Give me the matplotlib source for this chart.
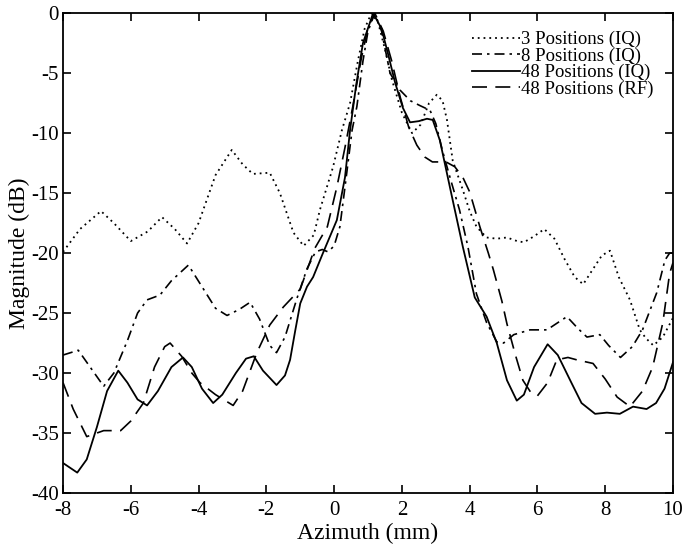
import matplotlib
matplotlib.use("Agg")
import matplotlib.pyplot as plt

plt.rcParams['font.family'] = ['Liberation Serif', 'DejaVu Serif']
plt.rcParams['axes.unicode_minus'] = False

# 3 Positions (IQ)
x3 = [-8.0, -7.5, -6.88, -6.5, -6.0, -5.5, -5.08, -4.7, -4.34, -4.0, -3.5, -3.02, -2.7, -2.4,
      -1.9, -1.6, -1.2, -0.9, -0.6, -0.42, -0.03, 0.23, 0.47, 0.7, 0.9, 1.1, 1.3, 1.5, 1.7,
      2.0, 2.3, 2.55, 2.8, 3.03, 3.2, 3.33, 3.5, 3.8, 4.0, 4.2, 4.5, 4.8, 5.1, 5.4, 5.6, 5.9,
      6.2, 6.5, 6.8, 7.1, 7.35, 7.6, 7.9, 8.14, 8.4, 8.73, 9.02, 9.2, 9.42, 9.7, 10.0]
y3 = [-19.9, -18.0, -16.5, -17.5, -19.0, -18.2, -17.0, -18.0, -19.2, -17.5, -13.5, -11.4, -12.6, -13.4,
      -13.3, -15.0, -18.3, -19.4, -18.5, -16.4, -12.8, -9.75, -7.5, -4.0, -1.3, 0.0, -0.8, -3.0, -5.5,
      -8.3, -10.0, -9.3, -7.5, -6.8, -7.3, -8.9, -12.3, -14.75, -16.5, -17.8, -18.7, -18.8, -18.7, -19.0, -19.1, -18.6,
      -18.0, -18.8, -20.5, -22.0, -22.6, -21.5, -20.2, -19.8, -22.0, -23.9, -26.4, -27.1, -27.7, -27.0, -25.4]

# 8 Positions (IQ)
x8 = [-8.0, -7.55, -7.2, -6.8, -6.5, -6.1, -5.8, -5.52, -5.14, -4.8, -4.3, -3.9, -3.5, -3.16, -2.8,
      -2.48, -2.2, -1.9, -1.7, -1.45, -1.1, -0.8, -0.55, -0.35, -0.18, 0.0, 0.17, 0.32, 0.53, 0.67,
      0.85, 1.0, 1.2, 1.4, 1.65, 1.94, 2.25, 2.53, 2.83, 3.0, 3.2, 3.45, 3.7, 3.95, 4.2, 4.5, 4.8,
      5.0, 5.3, 5.78, 6.28, 6.6, 6.87, 7.2, 7.46, 7.84, 8.1, 8.45, 8.8, 9.1, 9.52, 9.76, 9.9, 10.0]
y8 = [-28.5, -28.1, -29.5, -31.1, -30.0, -27.3, -25.0, -23.9, -23.5, -22.3, -21.0, -22.8, -24.6, -25.2, -24.7,
      -24.1, -25.5, -27.7, -28.3, -27.0, -23.8, -21.3, -19.9, -19.7, -19.9, -19.4, -17.8, -14.5, -9.75, -7.8,
      -4.0, -1.5, 0.0, -1.5, -5.0, -6.4, -7.3, -7.7, -8.1, -9.2, -11.5, -14.0, -16.4, -19.5, -23.4, -25.8, -27.4,
      -27.5, -26.8, -26.4, -26.4, -25.8, -25.3, -26.3, -27.0, -26.8, -27.7, -28.7, -27.8, -26.4, -23.3, -20.6, -20.0, -20.0]

# 48 Positions (IQ)
x48 = [-8.0, -7.58, -7.3, -7.0, -6.7, -6.37, -6.1, -5.8, -5.52, -5.2, -4.8, -4.46, -4.2, -3.9, -3.57,
       -3.3, -2.9, -2.6, -2.37, -2.1, -1.7, -1.45, -1.3, -1.15, -1.0, -0.8, -0.62, -0.33, 0.08, 0.32,
       0.47, 0.65, 0.85, 1.15, 1.4, 1.6, 1.8, 2.03, 2.24, 2.5, 2.74, 2.91, 3.12, 3.5, 3.8, 4.15, 4.5,
       4.8, 5.1, 5.39, 5.6, 5.9, 6.3, 6.6, 7.0, 7.3, 7.7, 8.05, 8.43, 8.82, 9.22, 9.5, 9.75, 10.0]
y48 = [-37.5, -38.3, -37.2, -34.5, -31.5, -29.8, -30.8, -32.2, -32.7, -31.5, -29.5, -28.7, -29.5, -31.3, -32.5,
       -31.8, -30.0, -28.8, -28.6, -29.8, -31.0, -30.2, -28.9, -26.5, -24.2, -22.8, -22.0, -20.0, -17.25, -13.7,
       -9.75, -6.0, -2.5, 0.0, -1.3, -3.5, -5.8, -7.9, -9.1, -9.0, -8.8, -8.9, -10.6, -15.6, -19.5, -23.7, -25.3,
       -27.5, -30.6, -32.3, -31.8, -29.5, -27.6, -28.5, -30.8, -32.5, -33.4, -33.3, -33.4, -32.8, -33.0, -32.5, -31.3, -29.1]

# 48 Positions (RF)
xrf = [-8.0, -7.7, -7.3, -7.0, -6.8, -6.3, -6.0, -5.63, -5.3, -5.0, -4.84, -4.5, -4.2, -3.96, -3.5,
       -2.98, -2.7, -2.28, -1.9, -1.5, -1.0, -0.57, -0.2, 0.08, 0.32, 0.55, 0.8, 1.0, 1.2, 1.45, 1.7,
       1.95, 2.2, 2.44, 2.68, 2.9, 3.3, 3.56, 3.8, 4.0, 4.3, 4.55, 4.7, 4.95, 5.1, 5.35, 5.57, 5.8,
       6.0, 6.3, 6.57, 6.9, 7.16, 7.64, 8.0, 8.35, 8.73, 9.1, 9.4, 9.7, 9.9, 10.0]
yrf = [-30.8, -33.0, -35.3, -35.0, -34.8, -34.8, -34.0, -32.5, -29.5, -27.8, -27.5, -28.6, -30.0, -30.8, -31.8,
       -32.7, -31.5, -28.3, -26.0, -24.5, -23.0, -19.6, -17.8, -14.5, -11.2, -7.8, -3.8, -1.2, 0.0, -1.5, -4.0,
       -7.0, -9.5, -11.0, -12.0, -12.4, -12.4, -12.8, -13.7, -14.9, -17.8, -20.0, -21.4, -24.0, -25.9, -28.5, -30.6, -31.6,
       -31.9, -30.8, -28.9, -28.7, -28.9, -29.2, -30.5, -32.0, -32.8, -31.5, -29.5, -25.8, -21.7, -20.8]

labels = ["3 Positions (IQ)", "8 Positions (IQ)", "48 Positions (IQ)", "48 Positions (RF)"]
xticks = [-8, -6, -4, -2, 0, 2, 4, 6, 8, 10]
yticks = [-40, -35, -30, -25, -20, -15, -10, -5, 0]

fig = plt.figure(figsize=(6.85, 5.49), dpi=100)
ax = fig.add_axes([0.092, 0.102, 0.8905, 0.874])

ax.plot(x3, y3, color='black', lw=1.3, linestyle=(0, (1, 2.2)), label=labels[0])
ax.plot(x8, y8, color='black', lw=1.2, linestyle=(0, (6, 3, 1.5, 3)), label=labels[1])
ax.plot(x48, y48, color='black', lw=1.3, linestyle='-', label=labels[2])
ax.plot(xrf, yrf, color='black', lw=1.2, linestyle=(0, (9, 5)), label=labels[3])

ax.set_xlim(-8, 10)
ax.set_ylim(-40, 0)
ax.set_xticks(xticks)
ax.set_yticks(yticks)
ax.set_xticklabels([str(t) for t in xticks])
ax.set_yticklabels([str(t) for t in yticks])
ax.tick_params(direction='in', length=6, width=1.2, top=True, right=True,
               labelsize=15)
ax.tick_params(axis='x', pad=6)
ax.tick_params(axis='y', pad=3)
for s in ax.spines.values():
    s.set_linewidth(1.3)

ax.set_xlabel("Azimuth (mm)", fontsize=17, labelpad=2)
ax.set_ylabel("Magnitude (dB)", fontsize=17, labelpad=1)

leg = ax.legend(loc='upper right', bbox_to_anchor=(0.99, 0.99), frameon=False,
                fontsize=13.5, handlelength=2.6, handletextpad=0.05,
                labelspacing=-0.05, borderpad=0.2)

fig.savefig("out.png", dpi=100)
